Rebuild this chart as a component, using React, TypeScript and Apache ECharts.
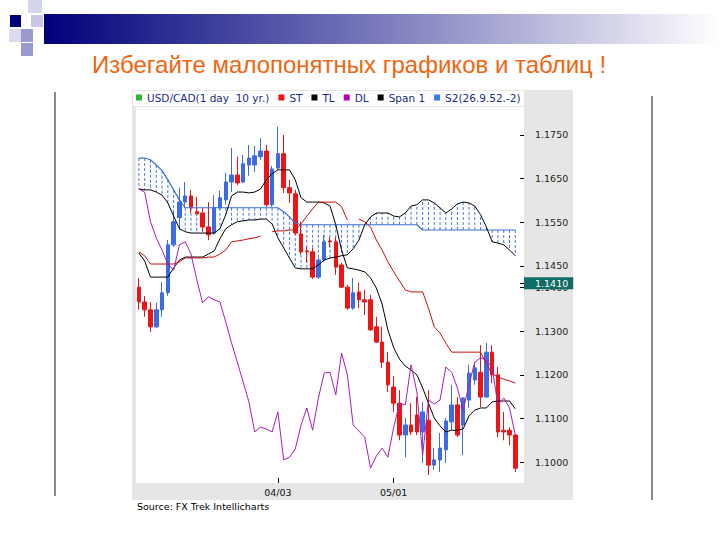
import React, { useEffect, useRef } from 'react';
import * as echarts from 'echarts';

const dates = ['02/28','03/01','03/02','03/03','03/06','03/07','03/08','03/09','03/10','03/13','03/14','03/15','03/16','03/17','03/20','03/21','03/22','03/23','03/24','03/27','03/28','03/29','03/30','03/31','04/03','04/04','04/05','04/06','04/07','04/10','04/11','04/12','04/13','04/14','04/17','04/18','04/19','04/20','04/21','04/24','04/25','04/26','04/27','04/28','05/01','05/02','05/03','05/04','05/05','05/08','05/09','05/10','05/11','05/12','05/15','05/16','05/17','05/18','05/19','05/22','05/23','05/24','05/25','05/26','05/29','05/30','05/31'];
const labelDates = ['04/03', '05/01'];

const openP = [1.1401,1.1367,1.1349,1.1310,1.1349,1.1388,1.1498,1.1560,1.1596,1.1610,
 1.1574,1.1571,1.1539,1.1525,1.1583,1.1601,1.1642,1.1658,1.1642,1.1681,
 1.1681,1.1700,1.1713,1.1590,1.1674,1.1707,1.1629,1.1615,1.1523,1.1484,
 1.1482,1.1424,1.1463,1.1507,1.1505,1.1452,1.1401,1.1353,1.1390,1.1372,
 1.1372,1.1310,1.1275,1.1229,1.1172,1.1135,1.1062,1.1085,1.1108,1.1069,
 1.1096,1.0993,1.1005,1.1028,1.1092,1.1131,1.1085,1.1142,1.1188,1.1206,
 1.1149,1.1252,1.1200,1.1073,1.1073,1.1062];
const closeP = [1.1367,1.1349,1.1310,1.1349,1.1388,1.1498,1.1551,1.1596,1.1610,1.1583,
 1.1569,1.1539,1.1521,1.1583,1.1606,1.1642,1.1658,1.1640,1.1684,1.1697,
 1.1702,1.1713,1.1590,1.1672,1.1707,1.1629,1.1617,1.1525,1.1482,1.1482,
 1.1424,1.1463,1.1505,1.1505,1.1447,1.1401,1.1353,1.1388,1.1372,1.1367,
 1.1303,1.1275,1.1229,1.1177,1.1135,1.1062,1.1085,1.1069,1.1069,1.1115,
 1.0993,1.1005,1.1032,1.1094,1.1131,1.1062,1.1147,1.1204,1.1216,1.1149,
 1.1252,1.1200,1.1069,1.1069,1.1062,1.0986];
const lowP = [1.1349,1.1333,1.1298,1.1307,1.1333,1.1381,1.1493,1.1532,1.1583,1.1571,
 1.1567,1.1528,1.1509,1.1521,1.1578,1.1590,1.1619,1.1635,1.1640,1.1656,
 1.1665,1.1693,1.1585,1.1585,1.1670,1.1617,1.1594,1.1521,1.1475,1.1457,
 1.1420,1.1420,1.1459,1.1493,1.1429,1.1399,1.1349,1.1349,1.1353,1.1337,
 1.1301,1.1273,1.1216,1.1161,1.1115,1.1050,1.1011,1.1062,1.1062,1.0998,
 1.0970,1.0982,1.0977,1.0998,1.1073,1.1057,1.1016,1.1124,1.1177,1.1126,
 1.1147,1.1181,1.1057,1.1050,1.1039,1.0977];
const highP = [1.1422,1.1381,1.1367,1.1365,1.1413,1.1509,1.1574,1.1629,1.1642,1.1624,
 1.1608,1.1583,1.1596,1.1612,1.1622,1.1663,1.1720,1.1700,1.1704,1.1727,
 1.1725,1.1743,1.1727,1.1679,1.1769,1.1750,1.1647,1.1624,1.1551,1.1493,
 1.1491,1.1468,1.1521,1.1516,1.1516,1.1457,1.1406,1.1422,1.1411,1.1395,
 1.1383,1.1333,1.1310,1.1252,1.1197,1.1165,1.1101,1.1135,1.1149,1.1138,
 1.1165,1.1032,1.1067,1.1101,1.1177,1.1149,1.1149,1.1223,1.1229,1.1268,
 1.1273,1.1268,1.1218,1.1115,1.1080,1.1062];

const stLine = [1.1482,1.1473,1.1454,1.1454,1.1454,1.1454,1.1454,1.1459,1.1468,1.1468,
 1.1468,1.1468,1.1470,1.1470,1.1477,1.1486,1.1505,1.1507,1.1509,1.1512,
 1.1514,1.1518,null,1.1528,1.1530,1.1530,1.1532,1.1532,1.1546,1.1564,
 1.1580,1.1596,1.1596,1.1596,1.1596,1.1585,1.1555,null,1.1557,1.1551,
 1.1539,1.1509,1.1486,1.1459,1.1436,1.1415,1.1395,1.1390,1.1390,1.1390,
 1.1353,1.1310,1.1296,1.1273,1.1252,1.1252,1.1252,1.1252,1.1252,1.1252,
 1.1225,1.1202,1.1195,1.1190,1.1186,1.1181];
const tlLine = [1.1626,1.1624,1.1624,1.1619,1.1612,1.1594,1.1564,1.1535,1.1528,1.1525,
 1.1525,1.1525,1.1525,1.1525,1.1535,1.1567,1.1610,1.1619,1.1619,1.1617,
 1.1619,1.1626,1.1647,1.1661,1.1670,1.1670,1.1670,1.1647,1.1606,1.1596,
 1.1596,1.1596,1.1594,1.1587,1.1544,1.1486,1.1445,1.1443,1.1440,1.1436,
 1.1422,1.1399,1.1362,1.1303,1.1262,1.1236,1.1220,1.1211,1.1200,1.1170,
 1.1135,1.1101,1.1083,1.1069,1.1073,1.1073,1.1076,1.1106,1.1119,1.1124,
 1.1124,1.1138,1.1140,1.1140,1.1140,1.1122];
const dlLine = [1.1626,1.1619,1.1551,1.1514,1.1486,1.1454,1.1440,1.1498,1.1505,1.1477,
 1.1418,1.1365,1.1379,1.1372,1.1367,1.1321,1.1273,1.1229,1.1184,1.1138,
 1.1069,1.1080,1.1076,1.1069,1.1115,1.1005,1.1011,1.1030,1.1085,1.1124,
 1.1073,1.1147,1.1204,1.1206,1.1154,1.1250,1.1200,1.1085,1.1071,1.1057,
 1.0986,1.1014,1.1032,1.1011,1.1080,1.1135,1.1131,1.1223,1.1161,1.1016,
 1.1142,1.1133,1.1142,1.1218,1.1206,1.1170,1.1119,1.1177,1.1229,1.1239,
 1.1234,1.1216,1.1131,1.1147,1.1124,1.1062];
const span1Line = [1.1479,1.1461,1.1424,1.1424,1.1424,1.1424,1.1445,1.1463,1.1470,1.1470,
 1.1470,1.1470,1.1477,1.1484,1.1512,1.1535,1.1544,1.1551,1.1553,1.1555,
 1.1555,1.1557,1.1557,1.1546,1.1514,1.1491,1.1468,1.1445,1.1443,1.1443,
 1.1443,1.1452,1.1463,1.1468,1.1470,1.1473,1.1475,1.1489,1.1509,1.1544,
 1.1562,1.1571,1.1571,1.1571,1.1564,1.1562,1.1571,1.1587,1.1590,1.1601,
 1.1601,1.1594,1.1583,1.1571,1.1580,1.1592,1.1596,1.1594,1.1587,1.1567,
 1.1539,1.1505,1.1502,1.1498,1.1486,1.1473];
const s2Line = [1.1697,1.1697,1.1693,1.1681,1.1668,1.1647,1.1624,1.1601,1.1583,1.1583,
 1.1583,1.1583,1.1583,1.1583,1.1583,1.1583,1.1583,1.1583,1.1583,1.1583,
 1.1583,1.1583,1.1583,1.1583,1.1583,1.1574,1.1562,1.1548,1.1544,1.1544,
 1.1544,1.1544,1.1544,1.1544,1.1544,1.1544,1.1544,1.1544,1.1544,1.1544,
 1.1544,1.1544,1.1544,1.1544,1.1544,1.1544,1.1544,1.1544,1.1544,1.1532,
 1.1532,1.1532,1.1532,1.1532,1.1532,1.1532,1.1532,1.1532,1.1532,1.1532,
 1.1532,1.1532,1.1532,1.1532,1.1532,1.1532];
// the hatched cloud is bounded by TL up to this bar, by Span 1 afterwards
const CLOUD_SWITCH = 16;

const yTicks = [1.10, 1.11, 1.12, 1.13, 1.14, 1.145, 1.155, 1.165, 1.175];
const lastPrice = 1.1410;
const Y_MIN = 1.0952;
const Y_MAX = 1.1814;

const NAME_MAIN = 'USD/CAD(1 day  10 yr.)';
const AX_FONT = 'DejaVu Sans';

export default function App() {
  const ref = useRef<HTMLDivElement>(null);
  useEffect(() => {
    const chart = echarts.init(ref.current as HTMLDivElement, null, { renderer: 'svg' });
    const candleData = openP.map((o, i) => [o, closeP[i], lowP[i], highP[i]]);
    const cloud = s2Line.map((v, i) => [i, v, i < CLOUD_SWITCH ? tlLine[i] : span1Line[i]]);
    const isLabel = (_i: number, v: string) => labelDates.indexOf(v) >= 0;
    const legendIcon = (c: string) => ({ color: c, borderColor: c, borderWidth: 0 });

    chart.setOption({
      animation: false,
      backgroundColor: '#ffffff',
      legend: {
        left: 136,
        top: 92,
        padding: 0,
        icon: 'rect',
        itemWidth: 6,
        itemHeight: 6,
        itemGap: 9,
        selectedMode: false,
        textStyle: { fontSize: 10.5, color: '#1b2a8c', fontFamily: AX_FONT },
        data: [
          { name: NAME_MAIN, itemStyle: legendIcon('#2cb52c') },
          { name: 'ST', itemStyle: legendIcon('#ee1111') },
          { name: 'TL', itemStyle: legendIcon('#000000') },
          { name: 'DL', itemStyle: legendIcon('#b400b4') },
          { name: 'Span 1', itemStyle: legendIcon('#000000') },
          { name: 'S2(26.9.52.-2)', itemStyle: legendIcon('#3a78ee') },
        ],
      },
      grid: { left: 136, right: 196, top: 107, bottom: 57, containLabel: false },
      xAxis: {
        type: 'category',
        data: dates,
        boundaryGap: true,
        axisLine: { show: false },
        axisTick: { show: true, inside: true, length: 5, alignWithLabel: true, interval: isLabel, lineStyle: { color: '#000' } },
        axisLabel: { interval: isLabel, color: '#111', fontSize: 9.5, margin: 4, fontFamily: AX_FONT },
        splitLine: { show: false },
      },
      yAxis: [
        {
          type: 'value',
          position: 'right',
          min: Y_MIN,
          max: Y_MAX,
          axisLine: { show: false },
          splitLine: { show: false },
          axisTick: { show: true, inside: true, length: 4, customValues: yTicks, lineStyle: { color: '#000' } },
          axisLabel: { customValues: yTicks, formatter: (v: number) => v.toFixed(4), color: '#222', fontSize: 9.5, margin: 11, fontFamily: AX_FONT },
        },
        {
          type: 'value',
          position: 'right',
          min: Y_MIN,
          max: Y_MAX,
          axisLine: { show: false },
          splitLine: { show: false },
          axisTick: { show: true, inside: true, length: 4, customValues: [lastPrice], lineStyle: { color: '#000' } },
          axisLabel: {
            customValues: [lastPrice],
            formatter: (v: number) => v.toFixed(4),
            color: '#ffffff',
            backgroundColor: '#0f6c66',
            padding: [1, 5, 1, 11],
            fontSize: 9.5,
            margin: 0,
            fontFamily: AX_FONT,
          },
        },
      ],
      graphic: [
        { type: 'rect', z: -20, shape: { x: 132, y: 90, width: 441, height: 410 }, style: { fill: '#e6e6e6' } },
        { type: 'rect', z: -19, shape: { x: 133, y: 91, width: 391, height: 15 }, style: { fill: '#ffffff' } },
        { type: 'rect', z: -19, shape: { x: 136, y: 107, width: 388, height: 376 }, style: { fill: '#ffffff' } },
        { type: 'rect', shape: { x: 44, y: 14, width: 676, height: 30 }, style: { fill: new echarts.graphic.LinearGradient(0, 0, 1, 0, [{ offset: 0, color: '#00007a' }, { offset: 0.5, color: '#7b7bbd' }, { offset: 1, color: '#ffffff' }]) } },
        { type: 'rect', shape: { x: 28, y: 0, width: 14, height: 13 }, style: { fill: '#d4d4ea' } },
        { type: 'rect', shape: { x: 10, y: 15, width: 11, height: 12 }, style: { fill: '#00007a' } },
        { type: 'rect', shape: { x: 31, y: 15, width: 12, height: 12 }, style: { fill: '#c8c8e6' } },
        { type: 'rect', shape: { x: 21, y: 29, width: 12, height: 13 }, style: { fill: '#9a9acc' } },
        { type: 'rect', shape: { x: 9, y: 29, width: 12, height: 13 }, style: { fill: '#dcdcee' } },
        { type: 'rect', shape: { x: 21, y: 43, width: 12, height: 13 }, style: { fill: '#9a9acc' } },
        { type: 'line', shape: { x1: 55, y1: 92, x2: 55, y2: 496 }, style: { stroke: '#8a8a8a', lineWidth: 2 } },
        { type: 'line', shape: { x1: 652, y1: 96, x2: 652, y2: 500 }, style: { stroke: '#8a8a8a', lineWidth: 2 } },
        {
          type: 'text', x: 92, y: 64,
          style: { text: 'Избегайте малопонятных графиков и таблиц !', fontSize: 24, fontFamily: 'Liberation Sans', fill: '#f0650e', textAlign: 'left', textVerticalAlign: 'middle', align: 'left', verticalAlign: 'middle' },
        },
        {
          type: 'text', x: 137, y: 506,
          style: { text: 'Source: FX Trek Intellicharts', fontSize: 9.5, fontFamily: AX_FONT, fill: '#000', textAlign: 'left', textVerticalAlign: 'middle', align: 'left', verticalAlign: 'middle' },
        },
      ],
      series: [
        {
          name: 'cloud',
          type: 'custom',
          data: cloud,
          encode: { x: 0, y: [1, 2] },
          clip: true,
          renderItem: (_params: any, api: any) => {
            const a = api.coord([api.value(0), api.value(1)]);
            const b = api.coord([api.value(0), api.value(2)]);
            return {
              type: 'line',
              shape: { x1: a[0], y1: a[1], x2: b[0], y2: b[1] },
              style: { stroke: '#4a78dc', lineWidth: 1, lineDash: [3, 2] },
            };
          },
        },
        {
          name: NAME_MAIN,
          type: 'candlestick',
          data: candleData,
          barWidth: 4,
          itemStyle: { color: '#3c6be6', color0: '#ee1414', borderColor: '#3c6be6', borderColor0: '#ee1414', borderWidth: 1 },
        },
        { name: 'S2(26.9.52.-2)', type: 'line', data: s2Line, symbol: 'none', lineStyle: { color: '#3d6fd8', width: 1.2 }, itemStyle: { color: '#3a78ee' } },
        { name: 'Span 1', type: 'line', data: span1Line, symbol: 'none', lineStyle: { color: '#000', width: 1 }, itemStyle: { color: '#000' } },
        { name: 'TL', type: 'line', data: tlLine, symbol: 'none', lineStyle: { color: '#000', width: 1 }, itemStyle: { color: '#000' } },
        { name: 'ST', type: 'line', data: stLine, symbol: 'none', connectNulls: false, lineStyle: { color: '#c81010', width: 1 }, itemStyle: { color: '#ee1111' } },
        { name: 'DL', type: 'line', data: dlLine, symbol: 'none', lineStyle: { color: '#a81cb8', width: 1 }, itemStyle: { color: '#b400b4' } },
      ],
    });
    return () => chart.dispose();
  }, []);
  return <div ref={ref} style={{ position: 'fixed', left: 0, top: 0, width: 720, height: 540, background: '#fff' }} />;
}
